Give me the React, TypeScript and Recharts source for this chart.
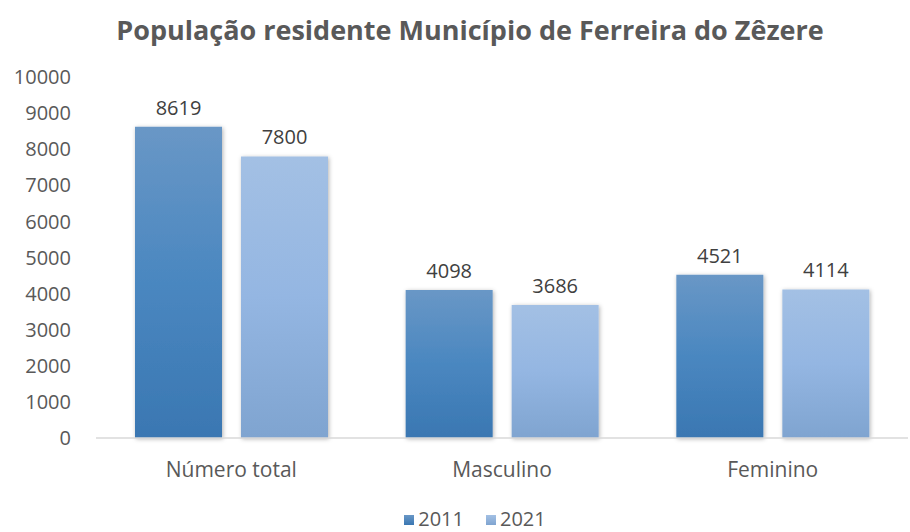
import React from 'react';
import {Bar, BarChart, LabelList, XAxis, YAxis} from 'recharts';

const categories = ['Número total', 'Masculino', 'Feminino'];
const values2011 = [8619, 4098, 4521];
const values2021 = [7800, 3686, 4114];
const yTicks = [0, 1000, 2000, 3000, 4000, 5000, 6000, 7000, 8000, 9000, 10000];

const FONT = '"Open Sans", "Liberation Sans", sans-serif';
const TEXT = '#595959';

const data = categories.map((name, i) => ({
  name,
  y2011: values2011[i],
  y2021: values2021[i],
}));

const LegendSwatch = ({from, to}: {from: string; to: string}) => (
  <span
    style={{
      display: 'inline-block',
      width: 10,
      height: 10,
      background: `linear-gradient(${from}, ${to})`,
      marginRight: 4,
      position: 'relative',
      top: -1,
    }}
  />
);

export default function App() {
  return (
    <div
      style={{
        position: 'absolute',
        left: 0,
        top: 0,
        width: 910,
        height: 532,
        background: '#fff',
        fontFamily: FONT,
        overflow: 'hidden',
      }}>
      <div
        style={{
          position: 'absolute',
          left: 0,
          top: 11,
          width: 940,
          textAlign: 'center',
          fontSize: 27,
          fontWeight: 700,
          color: TEXT,
        }}>
        População residente Município de Ferreira do Zêzere
      </div>
      <BarChart
        width={910}
        height={532}
        data={data}
        margin={{top: 77, right: 2, bottom: 44, left: 0}}
        barSize={87}
        barGap={19}>
        <defs>
          <linearGradient id="g2011" x1="0" y1="0" x2="0" y2="1">
            <stop offset="0%" stopColor="#6997c6" />
            <stop offset="50%" stopColor="#4a87c0" />
            <stop offset="100%" stopColor="#3a77b2" />
          </linearGradient>
          <linearGradient id="g2021" x1="0" y1="0" x2="0" y2="1">
            <stop offset="0%" stopColor="#a3c0e4" />
            <stop offset="50%" stopColor="#94b6e2" />
            <stop offset="100%" stopColor="#7fa4d0" />
          </linearGradient>
          <filter id="shadow" x="-20%" y="-5%" width="140%" height="110%">
            <feDropShadow dx="1" dy="1" stdDeviation="2" floodColor="#000" floodOpacity="0.3" />
          </filter>
        </defs>
        <XAxis
          dataKey="name"
          height={50}
          axisLine={{stroke: '#d9d9d9', strokeWidth: 1.5}}
          tickLine={false}
          tickMargin={18}
          tick={{fill: TEXT, fontSize: 21, fontFamily: FONT}}
        />
        <YAxis
          width={96}
          domain={[0, 10000]}
          ticks={yTicks}
          interval={0}
          axisLine={false}
          tickLine={false}
          tickSize={0}
          tickMargin={25}
          tick={{fill: TEXT, fontSize: 20, fontFamily: FONT}}
        />
        <Bar dataKey="y2011" fill="url(#g2011)" filter="url(#shadow)" isAnimationActive={false}>
          <LabelList dataKey="y2011" position="top" offset={12} fill="#404040" fontSize={20} fontFamily={FONT} />
        </Bar>
        <Bar dataKey="y2021" fill="url(#g2021)" filter="url(#shadow)" isAnimationActive={false}>
          <LabelList dataKey="y2021" position="top" offset={12} fill="#404040" fontSize={20} fontFamily={FONT} />
        </Bar>
      </BarChart>
      <div
        style={{
          position: 'absolute',
          left: 0,
          top: 507,
          width: 950,
          textAlign: 'center',
          fontSize: 20,
          lineHeight: '24px',
          color: TEXT,
        }}>
        <span style={{marginRight: 22}}>
          <LegendSwatch from="#6997c6" to="#3a77b2" />
          2011
        </span>
        <span>
          <LegendSwatch from="#a3c0e4" to="#7fa4d0" />
          2021
        </span>
      </div>
    </div>
  );
}
